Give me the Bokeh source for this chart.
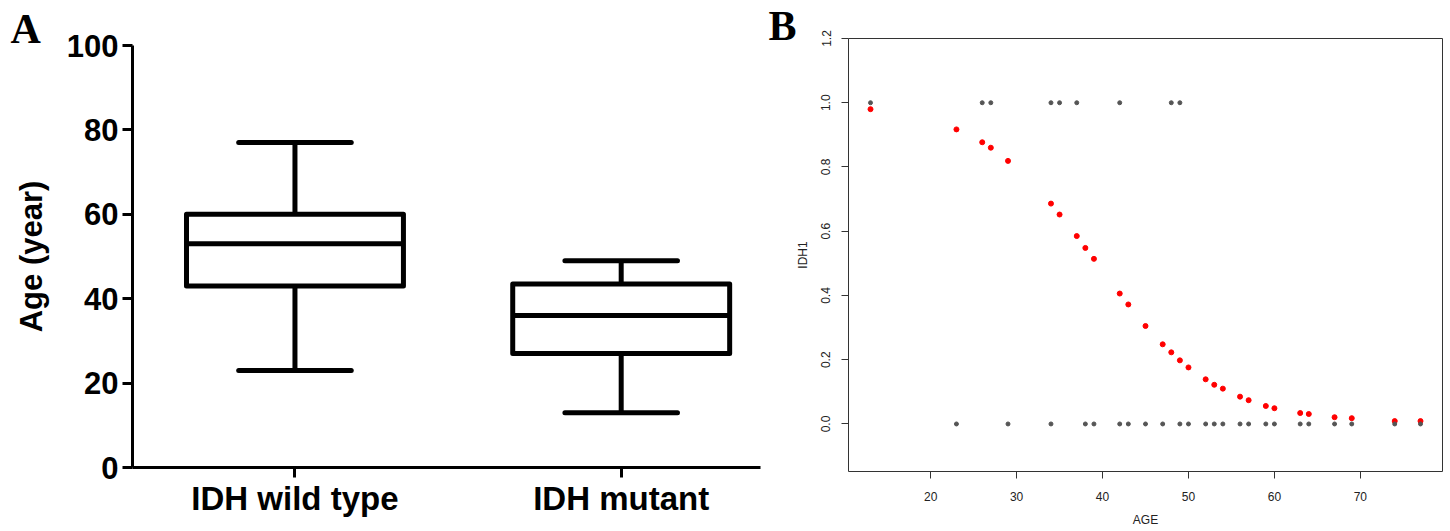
from bokeh.plotting import figure
from bokeh.layouts import row, column
from bokeh.models import FixedTicker, Range1d, PrintfTickFormatter
from bokeh.embed import file_html
from bokeh.resources import INLINE

# ---------------- Panel A data (box plot) ----------------
groups = ["IDH wild type", "IDH mutant"]
whisker_low = [23, 13]
q1 = [43, 27]
median = [53, 36]
q3 = [60, 43.5]
whisker_high = [77, 49]
a_ticks = [0, 20, 40, 60, 80, 100]

# ---------------- Panel B data (logistic fit) ----------------
age_idh0 = [23, 29, 34, 38, 39, 42, 43, 45, 47, 49, 50, 52, 53, 54, 56, 57,
            59, 60, 63, 64, 67, 69, 74, 77]
age_idh1 = [13, 26, 27, 34, 35, 37, 42, 48, 49]
fit_age = [13, 23, 26, 27, 29, 34, 35, 37, 38, 39, 42, 43, 45, 47, 48, 49,
           50, 52, 53, 54, 56, 57, 59, 60, 63, 64, 67, 69, 74, 77]
fit_prob = [0.980, 0.917, 0.877, 0.860, 0.819, 0.686, 0.652, 0.585, 0.548,
            0.514, 0.406, 0.372, 0.305, 0.248, 0.223, 0.198, 0.176, 0.139,
            0.122, 0.110, 0.085, 0.074, 0.056, 0.049, 0.034, 0.031, 0.021,
            0.018, 0.009, 0.009]
b_xticks = [20, 30, 40, 50, 60, 70]
b_yticks = [0.0, 0.2, 0.4, 0.6, 0.8, 1.0, 1.2]

H = 530
BOLD_FONT = "Liberation Sans"


def panel_letter(p, letter, offset, standoff):
    p.title.text = letter
    p.title.align = "left"
    p.title.offset = offset
    p.title.standoff = standoff
    p.title.padding = dict(left=0, right=0, top=10, bottom=0)
    p.title.text_font = "Liberation Serif"
    p.title.text_font_style = "bold"
    p.title.text_font_size = "42px"
    p.title.text_color = "black"
    p.title.vertical_align = "bottom"


# ================= Panel A =================
pA = figure(width=766, height=H, x_range=Range1d(0.502, 2.427), y_range=Range1d(0, 100),
            output_backend="svg", toolbar_location=None,
            min_border_left=132, min_border_right=6, min_border_top=45, min_border_bottom=63)
pA.outline_line_color = None
pA.xgrid.visible = False
pA.ygrid.visible = False
pA.background_fill_color = "white"
panel_letter(pA, "A", -122, -13)

xs = [i + 1 for i in range(len(groups))]
bw = 0.665
cw = 0.345

pA.vbar(x=xs, width=bw, bottom=q1, top=q3, fill_color="white", line_color="black",
        line_width=5, line_join="round")
pA.segment(x0=[x - bw / 2 for x in xs], x1=[x + bw / 2 for x in xs], y0=median, y1=median,
           line_color="black", line_width=5)
pA.segment(x0=xs, x1=xs, y0=q3, y1=whisker_high, line_color="black", line_width=5)
pA.segment(x0=xs, x1=xs, y0=whisker_low, y1=q1, line_color="black", line_width=5)
pA.segment(x0=[x - cw / 2 for x in xs], x1=[x + cw / 2 for x in xs], y0=whisker_high,
           y1=whisker_high, line_color="black", line_width=5, line_cap="round")
pA.segment(x0=[x - cw / 2 for x in xs], x1=[x + cw / 2 for x in xs], y0=whisker_low,
           y1=whisker_low, line_color="black", line_width=5, line_cap="round")

for ax in (pA.xaxis[0], pA.yaxis[0]):
    ax.axis_line_width = 3
    ax.axis_line_color = "black"
    ax.major_tick_line_width = 3
    ax.major_tick_line_color = "black"
    ax.major_tick_out = 10
    ax.major_tick_in = 0
    ax.minor_tick_line_color = None
    ax.major_label_text_font = BOLD_FONT
    ax.major_label_text_font_style = "bold"
    ax.major_label_text_color = "black"

pA.yaxis.ticker = FixedTicker(ticks=a_ticks)
pA.yaxis.major_label_text_font_size = "31px"
pA.yaxis.major_label_standoff = 4
pA.yaxis.axis_label = "Age (year)"
pA.yaxis.axis_label_text_font = BOLD_FONT
pA.yaxis.axis_label_text_font_style = "bold"
pA.yaxis.axis_label_text_font_size = "31px"
pA.yaxis.axis_label_text_color = "black"
pA.yaxis.axis_label_standoff = 15

pA.xaxis.ticker = FixedTicker(ticks=xs)
pA.xaxis.major_label_overrides = {x: g for x, g in zip(xs, groups)}
pA.xaxis.major_label_text_font_size = "33px"
pA.xaxis.major_label_standoff = 2

# ================= Panel B =================
pB = figure(width=682, height=H, x_range=Range1d(10.44, 79.56), y_range=Range1d(-0.148, 1.2),
            output_backend="svg", toolbar_location=None,
            min_border_left=82, min_border_right=6, min_border_top=38, min_border_bottom=59)
pB.outline_line_color = "#333333"
pB.outline_line_width = 1
pB.xgrid.visible = False
pB.ygrid.visible = False
panel_letter(pB, "B", -80, -20)

pB.scatter(x=fit_age, y=fit_prob, size=5, color="#ff0000")
pB.scatter(x=age_idh1, y=[1.0] * len(age_idh1), size=4, color="#555555")
pB.scatter(x=age_idh0, y=[0.0] * len(age_idh0), size=4, color="#555555")

for ax in (pB.xaxis[0], pB.yaxis[0]):
    ax.axis_line_color = None
    ax.major_tick_line_color = "#333333"
    ax.major_tick_line_width = 1
    ax.major_tick_out = 7
    ax.major_tick_in = 0
    ax.minor_tick_line_color = None
    ax.major_label_text_font = "Liberation Sans"
    ax.major_label_text_font_size = "12px"
    ax.major_label_text_color = "#222222"
    ax.axis_label_text_font = "Liberation Sans"
    ax.axis_label_text_font_size = "12px"
    ax.axis_label_text_font_style = "normal"
    ax.axis_label_text_color = "#222222"

pB.xaxis.ticker = FixedTicker(ticks=b_xticks)
pB.xaxis.major_label_standoff = 13
pB.xaxis.axis_label = "AGE"
pB.xaxis.axis_label_standoff = 9

pB.yaxis.ticker = FixedTicker(ticks=b_yticks)
pB.yaxis.formatter = PrintfTickFormatter(format="%.1f")
pB.yaxis.major_label_orientation = "vertical"
pB.yaxis.major_label_standoff = 11
pB.yaxis.axis_label = "IDH1"
pB.yaxis.axis_label_standoff = 9

layout = row(column(pA), column(pB))
open("out.html", "w").write(file_html(layout, INLINE))
